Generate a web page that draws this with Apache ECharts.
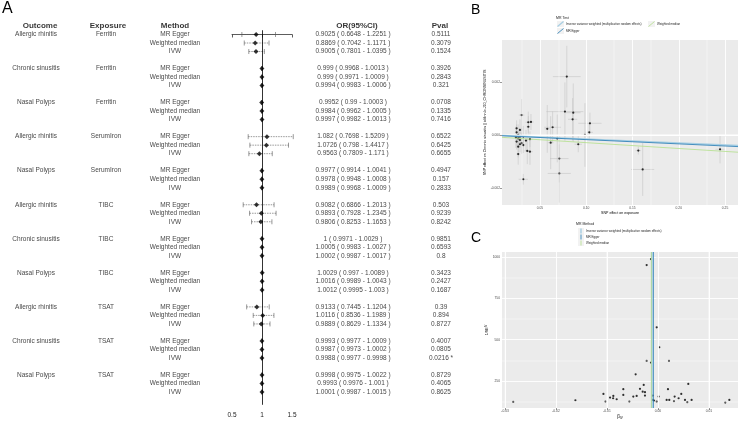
<!DOCTYPE html>
<html><head><meta charset="utf-8">
<script src="https://cdn.jsdelivr.net/npm/echarts@6/dist/echarts.min.js"></script>
<style>html,body{margin:0;padding:0;background:#fff}#c{width:744px;height:425px}</style>
</head><body><div id="c"></div><script>
// ---------- Panel A data ----------
const outcomes = ['Allergic rhinitis','Chronic sinusitis','Nasal Polyps','Allergic rhinitis','Nasal Polyps','Allergic rhinitis','Chronic sinusitis','Nasal Polyps','Allergic rhinitis','Chronic sinusitis','Nasal Polyps'];
const exposures = ['Ferritin','Ferritin','Ferritin','SerumIron','SerumIron','TIBC','TIBC','TIBC','TSAT','TSAT','TSAT'];
const methods = ['MR Egger','Weighted median','IVW'];
const orVals = [0.9025,0.8869,0.9005, 0.999,0.999,0.9994, 0.9952,0.9984,0.9997, 1.082,1.0726,0.9563, 0.9977,0.9978,0.9989, 0.9082,0.9893,0.9806, 1,1.0005,1.0002, 1.0029,1.0016,1.0012, 0.9133,1.0116,0.9889, 0.9993,0.9987,0.9988, 0.9998,0.9993,1.0001];
const ciLow = [0.6648,0.7042,0.7801, 0.9968,0.9971,0.9983, 0.99,0.9962,0.9982, 0.7698,0.798,0.7809, 0.9914,0.9948,0.9968, 0.6866,0.7928,0.8253, 0.9971,0.9983,0.9987, 0.997,0.9989,0.9995, 0.7445,0.8536,0.8629, 0.9977,0.9973,0.9977, 0.9975,0.9976,0.9987];
const ciHigh = [1.2251,1.1171,1.0395, 1.0013,1.0009,1.0006, 1.0003,1.0005,1.0013, 1.5209,1.4417,1.171, 1.0041,1.0008,1.0009, 1.2013,1.2345,1.1653, 1.0029,1.0027,1.0017, 1.0089,1.0043,1.003, 1.1204,1.1989,1.1334, 1.0009,1.0002,0.9998, 1.0022,1.001,1.0015];
const pVals = [0.5111,0.3079,0.1524, 0.3926,0.2843,0.321, 0.0708,0.1335,0.7416, 0.6522,0.6425,0.6655, 0.4947,0.157,0.2833, 0.503,0.9239,0.8242, 0.9851,0.6593,0.8, 0.3423,0.2427,0.1687, 0.39,0.894,0.8727, 0.4007,0.0805,0.0216, 0.8729,0.4065,0.8625];
const headers = ['Outcome','Exposure','Method','OR(95%CI)','Pval'];
const forestTicks = [0.5, 1, 1.5];

// ---------- Panel B data (scatter) ----------
const snpExp   = [0.079,0.077,0.086,0.0853,0.104,0.1033,0.0986,0.0914,0.0579,0.0637,0.0616,0.0687,0.0709,0.0709,0.1563,0.161,0.2446,0.032,0.0302,0.0374,0.0403,0.0374,0.0248,0.0284,0.0248,0.0265,0.0302,0.024,0.0284,0.032,0.0392,0.0349,0.0248,0.0302,0.0284,0.0265,0.032,0.0363,0.0392,0.0265,0.0284,0.0265];
const snpOut   = [0.0022,0.00088,0.00084,0.00059,0.00044,0.0001,0.0,-0.00035,0.00023,0.00029,-0.00029,-0.00013,-0.00089,-0.00145,-0.00059,-0.0013,-0.00054,-0.00167,0.00075,0.00048,0.00049,0.00031,0.00025,0.00019,0.0001,0.0,-0.00003,-0.00009,-0.00006,-0.00006,-0.00016,-0.00021,-0.00025,-0.00031,-0.00035,-0.00044,-0.00038,-0.0006,-0.00063,-0.00072,-0.00019,-0.00013];
const snpExpSE = [0.015,0.02,0.008,0.005,0.0125,0.004,0.004,0.004,0.003,0.009,0.003,0.004,0.01,0.0125,0.003,0.0125,0.005,0.005,0.003,0.003,0.003,0.002,0.002,0.002,0.002,0.002,0.002,0.002,0.002,0.002,0.003,0.002,0.002,0.002,0.002,0.002,0.002,0.003,0.003,0.002,0.002,0.002];
const snpOutSE = [0.00116,0.0011,0.0011,0.0008,0.0004,0.0003,0.0012,0.0003,0.0009,0.0006,0.001,0.0009,0.0009,0.0011,0.00015,0.001,0.00053,0.0002,0.0006,0.0004,0.0003,0.0004,0.0003,0.0004,0.0003,0.0004,0.0003,0.0004,0.0003,0.0004,0.0003,0.0004,0.0003,0.0004,0.0003,0.0004,0.0003,0.0005,0.0005,0.0004,0.0003,0.0003];
const mrNames = ['Inverse variance weighted (multiplicative random effects)','MR Egger','Weighted median'];
const mrColors = ['#A6CEE3','#1F78B4','#B2DF8A'];
const mrSlopeB = [-0.0015,-0.0016,-0.0022];
const mrInterceptB = [0,-0.000016,-0.00007];
const bRangeX = [0.009, 0.264];
const bRangeY = [-0.00264, 0.00358];
const bXMajor = [0.05,0.10,0.15,0.20,0.25], bXMinor = [0.025,0.075,0.125,0.175,0.225];
const bYMajor = [-0.002,0,0.002], bYMinor = [-0.001,0.001,0.003];

// ---------- Panel C data (funnel) ----------
const betaIV = [-0.00137,-0.00222,-0.00025,0.00026,-0.00222,-0.00137,0.00216,-0.00438,0.00595,-0.0028,-0.00353,0.00196,-0.003,-0.00255,-0.0107,-0.0068,-0.0068,-0.00876,-0.0094,-0.0088,-0.0081,-0.00484,-0.00418,-0.00255,-0.00105,0.00013,0.00327,0.00457,0.0017,0.00222,0.00314,0.00405,0.0053,0.0066,0.00575,-0.00562,-0.0103,-0.00105,-0.00078,-0.00025,-0.0284,-0.0162,0.0132,0.014];
const invSE  = [988,952,575,454,371,361,371,290,232,226,202,200,185,182,171,200,165,159,149,145,139,155,159,161,161,155,155,171,135,135,127,145,135,135,121,125,125,135,131,125,123,133,119,135];
const mrBetaC = [-0.0012,-0.0009,-0.0013];
const cRangeX = [-0.0306, 0.0157];
const cRangeY = [86, 1031];
const cXMajor = [-0.03,-0.02,-0.01,0,0.01], cXMinor = [-0.025,-0.015,-0.005,0.005,0.015];
const cYMajor = [250,500,750,1000], cYMinor = [125,375,625,875];

const FONT = "'Liberation Sans', Arial, sans-serif";
const chart = echarts.init(document.getElementById('c'));

// table text items
const colX = [36,106,175,353,441];
const headX = [40,108,175,357,440];
const bodyText = [];
outcomes.forEach((o,g)=>{
  bodyText.push([colX[0], g*4, o]);
  bodyText.push([colX[1], g*4, exposures[g]]);
  methods.forEach((m,i)=>{
    const k = g*3+i, s = g*4+i;
    bodyText.push([colX[2], s, m]);
    bodyText.push([colX[3], s, `${orVals[k]} ( ${ciLow[k]} - ${ciHigh[k]} )`]);
    bodyText.push([colX[4], s, pVals[k] < 0.05 ? `${pVals[k]} *` : `${pVals[k]}`]);
  });
});
const headText = headers.map((h,i)=>[headX[i], -1, h]);
const ciData = orVals.map((v,k)=>[ciLow[k], ciHigh[k], Math.floor(k/3)*4 + k%3]);
const ptData = orVals.map((v,k)=>[v, Math.floor(k/3)*4 + k%3]);

function gridLines(xMaj,xMin,yMaj,yMin){
  const L=[];
  xMin.forEach(v=>L.push({xAxis:v,lineStyle:{color:'#fff',width:0.45,type:'solid'}}));
  yMin.forEach(v=>L.push({yAxis:v,lineStyle:{color:'#fff',width:0.45,type:'solid'}}));
  xMaj.forEach(v=>L.push({xAxis:v,lineStyle:{color:'#fff',width:0.9,type:'solid'}}));
  yMaj.forEach(v=>L.push({yAxis:v,lineStyle:{color:'#fff',width:0.9,type:'solid'}}));
  return L;
}
const tinyAxis = (idx, range, ticks, fmt, name, gap, nameStyle) => ({
  type:'value', gridIndex: idx, min: range[0], max: range[1], scale:true,
  axisLine:{show:false},
  axisTick:{show:true, customValues: ticks, length:2, lineStyle:{color:'#333', width:0.5}},
  axisLabel:{customValues: ticks, formatter: fmt, fontSize:3.3, color:'#4D4D4D', margin:2, fontFamily:FONT},
  splitLine:{show:false},
  name: name, nameLocation:'middle', nameGap: gap,
  nameTextStyle: Object.assign({fontSize:3.6, color:'#000', fontFamily:FONT}, nameStyle||{})
});

const series = [
  // table header
  {type:'scatter', xAxisIndex:1, yAxisIndex:1, symbolSize:0, silent:true, data: headText,
   label:{show:true, position:'inside', formatter:p=>p.data[2], fontSize:8, fontWeight:'bold', color:'#000', fontFamily:FONT}},
  // table body
  {type:'scatter', xAxisIndex:1, yAxisIndex:1, symbolSize:0, silent:true, data: bodyText,
   label:{show:true, position:'inside', formatter:p=>p.data[2], fontSize:6.5, color:'#111', fontFamily:FONT}},
  // CI bars
  {type:'custom', xAxisIndex:0, yAxisIndex:0, silent:true, clip:false, data: ciData,
   renderItem:(params, api)=>{
     const a = api.coord([api.value(0), api.value(2)]);
     const b = api.coord([api.value(1), api.value(2)]);
     const st = {stroke:'#555', lineWidth:0.6};
     return {type:'group', children:[
       {type:'line', shape:{x1:a[0],y1:a[1],x2:b[0],y2:b[1]}, style:Object.assign({lineDash:[1.5,1]},st)},
       {type:'line', shape:{x1:a[0],y1:a[1]-2.5,x2:a[0],y2:a[1]+2.5}, style:st},
       {type:'line', shape:{x1:b[0],y1:b[1]-2.5,x2:b[0],y2:b[1]+2.5}, style:st}
     ]};
   }},
  // points
  {type:'scatter', xAxisIndex:0, yAxisIndex:0, symbol:'diamond', symbolSize:5, silent:true, z:4,
   itemStyle:{color:'#000'}, data: ptData,
   markLine:{silent:true, symbol:['none','none'], label:{show:false},
     lineStyle:{color:'#000', width:0.8, type:'solid'}, data:[{xAxis:1}]}},
  // B grid lines
  {type:'line', xAxisIndex:2, yAxisIndex:2, data:[[bRangeX[0], bRangeY[0]]], symbol:'none', lineStyle:{opacity:0}, silent:true, z:1,
   markLine:{silent:true, symbol:['none','none'], label:{show:false}, data: gridLines(bXMajor,bXMinor,bYMajor,bYMinor)}},
  // B error bars
  {type:'custom', xAxisIndex:2, yAxisIndex:2, silent:true, z:2,
   data: snpExp.map((x,i)=>[x, snpOut[i], snpExpSE[i], snpOutSE[i]]),
   renderItem:(params, api)=>{
     const x=api.value(0), y=api.value(1), sx=api.value(2), sy=api.value(3);
     const v1=api.coord([x,y-sy]), v2=api.coord([x,y+sy]);
     const h1=api.coord([x-sx,y]), h2=api.coord([x+sx,y]);
     const st={stroke:'#BEBEBE', lineWidth:0.5};
     return {type:'group', children:[
       {type:'line', shape:{x1:v1[0],y1:v1[1],x2:v2[0],y2:v2[1]}, style:st},
       {type:'line', shape:{x1:h1[0],y1:h1[1],x2:h2[0],y2:h2[1]}, style:st}
     ]};
   }},
  {type:'scatter', xAxisIndex:2, yAxisIndex:2, symbolSize:2.2, silent:true, z:3, itemStyle:{color:'#000'},
   data: snpExp.map((x,i)=>[x, snpOut[i]])},
  // C grid lines
  {type:'line', xAxisIndex:3, yAxisIndex:3, data:[[cRangeX[0], cRangeY[0]]], symbol:'none', lineStyle:{opacity:0}, silent:true, z:1,
   markLine:{silent:true, symbol:['none','none'], label:{show:false}, data: gridLines(cXMajor,cXMinor,cYMajor,cYMinor)}},
  {type:'scatter', xAxisIndex:3, yAxisIndex:3, symbolSize:2.2, silent:true, z:3, itemStyle:{color:'#000'},
   data: betaIV.map((x,i)=>[x, invSE[i]])}
];
// B regression lines
mrNames.forEach((n,i)=>{
  series.push({type:'line', name:n, xAxisIndex:2, yAxisIndex:2, symbol:'none', silent:true, z:5,
    lineStyle:{color:mrColors[i], width: i===0?1.4:0.8},
    data: bRangeX.map(x=>[x, mrInterceptB[i] + mrSlopeB[i]*x])});
});
// C method lines
mrNames.forEach((n,i)=>{
  series.push({type:'line', name:n+' ', xAxisIndex:3, yAxisIndex:3, symbol:'none', silent:true, z:5,
    lineStyle:{color:mrColors[i], width: i===0?1.6:0.8},
    data: cRangeY.map(y=>[mrBetaC[i], y])});
});

// legends
function legendKeyDiag(x,y,color,w){
  return [{type:'rect', shape:{x:x,y:y,width:7,height:6}, style:{fill:'#F2F2F2'}},
          {type:'line', shape:{x1:x+0.5,y1:y+5.5,x2:x+6.5,y2:y+0.5}, style:{stroke:color, lineWidth:w}}];
}
const smallTxt = (x,y,t,size)=>({type:'text', x:x, y:y, style:{text:t, fontSize:size||3, fill:'#222', fontFamily:FONT, verticalAlign:'middle', align:'left'}});
const graphic = [
  {type:'text', left:2, top:1, style:{text:'A', fontSize:16, fill:'#000', fontFamily:FONT}},
  {type:'text', left:471, top:3, style:{text:'B', fontSize:14, fill:'#000', fontFamily:FONT}},
  {type:'text', left:471, top:231, style:{text:'C', fontSize:14, fill:'#000', fontFamily:FONT}},
  smallTxt(556,18,'MR Test',3.5),
  ...legendKeyDiag(557,21,mrColors[0],1.2), smallTxt(566,24,mrNames[0]),
  ...legendKeyDiag(557,28,mrColors[1],0.8), smallTxt(566,31,mrNames[1]),
  ...legendKeyDiag(648,21,mrColors[2],0.8), smallTxt(657,24,mrNames[2]),
  smallTxt(576,224,'MR Method',3.5),
  {type:'rect', shape:{x:578,y:228,width:6,height:18}, style:{fill:'#F2F2F2'}},
  {type:'line', shape:{x1:581,y1:228.5,x2:581,y2:233.5}, style:{stroke:mrColors[0], lineWidth:1.4}},
  {type:'line', shape:{x1:581,y1:234.5,x2:581,y2:239.5}, style:{stroke:mrColors[1], lineWidth:0.8}},
  {type:'line', shape:{x1:581,y1:240.5,x2:581,y2:245.5}, style:{stroke:mrColors[2], lineWidth:0.8}},
  smallTxt(586,231,mrNames[0]), smallTxt(586,237,mrNames[1]), smallTxt(586,243,mrNames[2])
];

chart.setOption({
  animation:false,
  backgroundColor:'#fff',
  textStyle:{fontFamily:FONT},
  grid:[
    {left:232, top:30.24, width:60, height:374.56},
    {left:0, top:21.73, width:470, height:383.07},
    {left:502, top:40, width:236, height:165, show:true, backgroundColor:'#EBEBEB', borderWidth:0},
    {left:502, top:252, width:236, height:156, show:true, backgroundColor:'#EBEBEB', borderWidth:0}
  ],
  xAxis:[
    {type:'value', gridIndex:0, min:0.5, max:1.5, interval:0.5,
     axisLine:{lineStyle:{color:'#333', width:0.8}}, axisTick:{length:3, lineStyle:{color:'#333', width:0.8}},
     axisLabel:{fontSize:6.5, color:'#222', margin:7, formatter:v=>String(v), customValues: forestTicks}, splitLine:{show:false}},
    {type:'value', gridIndex:1, min:0, max:470, show:false},
    tinyAxis(2, bRangeX, bXMajor, v=>v.toFixed(2), 'SNP effect on exposure', 6),
    tinyAxis(3, cRangeX, cXMajor, v=>v.toFixed(2), '{a|β}{s|IV}', 6, {rich:{a:{fontSize:4.5},s:{fontSize:3,verticalAlign:'bottom',padding:[3,0,0,0]}}})
  ],
  yAxis:[
    {type:'value', gridIndex:0, min:-0.5, max:43.5, inverse:true, show:false},
    {type:'value', gridIndex:1, min:-1.5, max:43.5, inverse:true, show:false},
    tinyAxis(2, bRangeY, bYMajor, v=>v.toFixed(3), 'SNP effect on Chronic sinusitis || id:finn-b-J10_CHRONSINUSITIS', 12),
    tinyAxis(3, cRangeY, cYMajor, v=>String(v), '{a|1/SE}{s|IV}', 9, {rich:{a:{fontSize:3.8},s:{fontSize:2.6}}})
  ],
  series: series,
  graphic: graphic
});
</script></body></html>
